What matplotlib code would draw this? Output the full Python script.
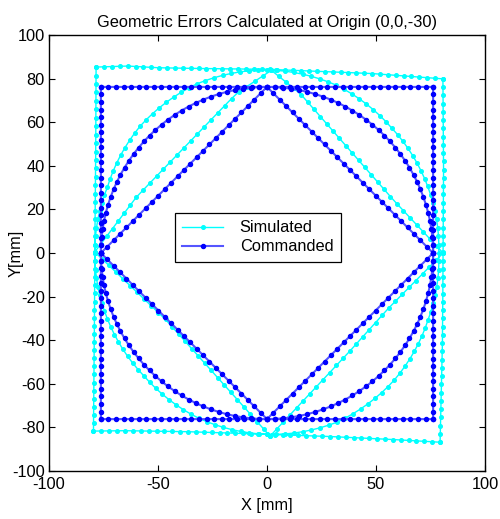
import numpy as np
import matplotlib.pyplot as plt

plt.rcParams['font.family'] = ['Liberation Sans', 'DejaVu Sans']
plt.rcParams['axes.unicode_minus'] = False

# commanded path (mm): 3 in square, circle and diamond
cmd_half = 76.2
cmd_radius = 76.2

# simulated path (mm)
sim_left = [(-79.6, -81.7), (-79.2, -40.0), (-79.0, 0.0), (-78.6, 40.0), (-78.4, 85.3)]
sim_top = [(-78.4, 85.3), (-64.4, 85.8), (-50.6, 85.0), (-35.3, 84.7), (0.0, 84.3),
           (16.5, 83.6), (47.2, 82.4), (80.7, 79.9)]
sim_right = [(80.7, 79.9), (81.0, 40.0), (80.8, 0.0), (80.5, -40.0), (79.4, -86.8)]
sim_bottom = [(79.4, -86.8), (62.4, -85.8), (32.0, -84.3), (1.4, -83.2), (-35.3, -82.0),
              (-65.9, -81.5), (-79.6, -81.7)]

# simulated circle: radius at every 22.5 deg, starting at the +x axis
sim_circle_deg = np.arange(0, 360, 22.5)
sim_circle_r = [78.8, 79.8, 81.0, 83.3, 84.0, 84.0, 82.3, 79.2,
                79.0, 79.2, 79.8, 82.0, 83.2, 84.0, 82.5, 80.0]

# simulated diamond, from the left vertex going clockwise
sim_diamond = [(-79.0, 0.5), (-59.8, 25.8), (-13.9, 73.3), (2.0, 83.8), (15.1, 73.3),
               (58.0, 24.3), (80.8, 0.0), (56.4, -24.6), (38.0, -45.0), (1.4, -84.0),
               (-21.6, -58.3), (-46.0, -31.0), (-79.0, 0.5)]

n_side = 44
n_circle = 128
n_diag = 26


def along(pts, n):
    # n intervals evenly spaced along a polyline
    pts = np.asarray(pts, dtype=float)
    s = np.r_[0, np.cumsum(np.hypot(*np.diff(pts, axis=0).T))]
    t = np.linspace(0, s[-1], n + 1)
    return np.column_stack([np.interp(t, s, pts[:, 0]), np.interp(t, s, pts[:, 1])])


def square_path(left, top, right, bottom):
    parts = [along(left[2:], n_side // 2), along(top, n_side), along(right, n_side),
             along(bottom, n_side), along(left[:3], n_side // 2)]
    return np.vstack(parts)


def circle_path(deg, r):
    a = np.linspace(180, -180, n_circle + 1)
    rr = np.interp(a % 360, np.r_[deg, 360], np.r_[r, r[0]])
    return np.column_stack([rr * np.cos(np.radians(a)), rr * np.sin(np.radians(a))])


def diamond_path(pts):
    pts = np.asarray(pts)
    corners = [0, 3, 6, 9, 12]
    return np.vstack([along(pts[corners[i]:corners[i + 1] + 1], n_diag) for i in range(4)])


h = cmd_half
cmd_left = [(-h, -h), (-h, 0), (-h, 0), (-h, 0), (-h, h)]
cmd_sq = square_path(cmd_left, [(-h, h), (h, h)], [(h, h), (h, -h)], [(h, -h), (-h, -h)])
cmd_ci = circle_path(sim_circle_deg, [cmd_radius] * len(sim_circle_deg))
cmd_di = diamond_path([(-h, 0), (-h / 2, h / 2), (-h / 4, 3 * h / 4), (0, h), (h / 4, 3 * h / 4),
                       (h / 2, h / 2), (h, 0), (h / 2, -h / 2), (h / 4, -3 * h / 4), (0, -h),
                       (-h / 4, -3 * h / 4), (-h / 2, -h / 2), (-h, 0)])
cmd = np.vstack([cmd_sq, cmd_ci, cmd_di])

sim = np.vstack([square_path(sim_left, sim_top, sim_right, sim_bottom),
                 circle_path(sim_circle_deg, np.array(sim_circle_r)),
                 diamond_path(sim_diamond)])

fs = 11.8
fig = plt.figure(figsize=(5.0, 5.19), dpi=100)
ax = fig.add_axes([0.098, 0.0925, 0.872, 0.840])

ax.plot(sim[:, 0], sim[:, 1], color='#00ffff', lw=1.0, marker='o', ms=2.6,
        mec='#00ffff', mfc='#00ffff', label='Simulated')
ax.plot(cmd[:, 0], cmd[:, 1], color='#5555ff', lw=1.5, marker='o', ms=2.9,
        mec='#0000ff', mfc='#0000ff', label='Commanded')

ax.set_xlim(-100, 100)
ax.set_ylim(-100, 100)
ax.set_xticks([-100, -50, 0, 50, 100])
ax.set_yticks(np.arange(-100, 101, 20))
ax.tick_params(direction='in', top=True, right=True, length=4, labelsize=fs,
               colors='black', pad=3)
ax.tick_params(axis='x', pad=4)
for sp in ax.spines.values():
    sp.set_linewidth(1.0)

ax.set_title('Geometric Errors Calculated at Origin (0,0,-30)', fontsize=fs, pad=6)
ax.set_xlabel('X [mm]', fontsize=fs, labelpad=5)
ax.set_ylabel('Y[mm]', fontsize=fs)
ax.yaxis.set_label_coords(-0.058, 0.5)

leg = ax.legend(loc='upper left', bbox_to_anchor=(0.289, 0.592), fontsize=fs,
                fancybox=False, edgecolor='black', framealpha=1, handlelength=2.5,
                numpoints=1, borderpad=0.45, labelspacing=0.25, handletextpad=1.0,
                borderaxespad=0)
leg.get_frame().set_linewidth(0.9)

fig.savefig('out.png', dpi=100)
